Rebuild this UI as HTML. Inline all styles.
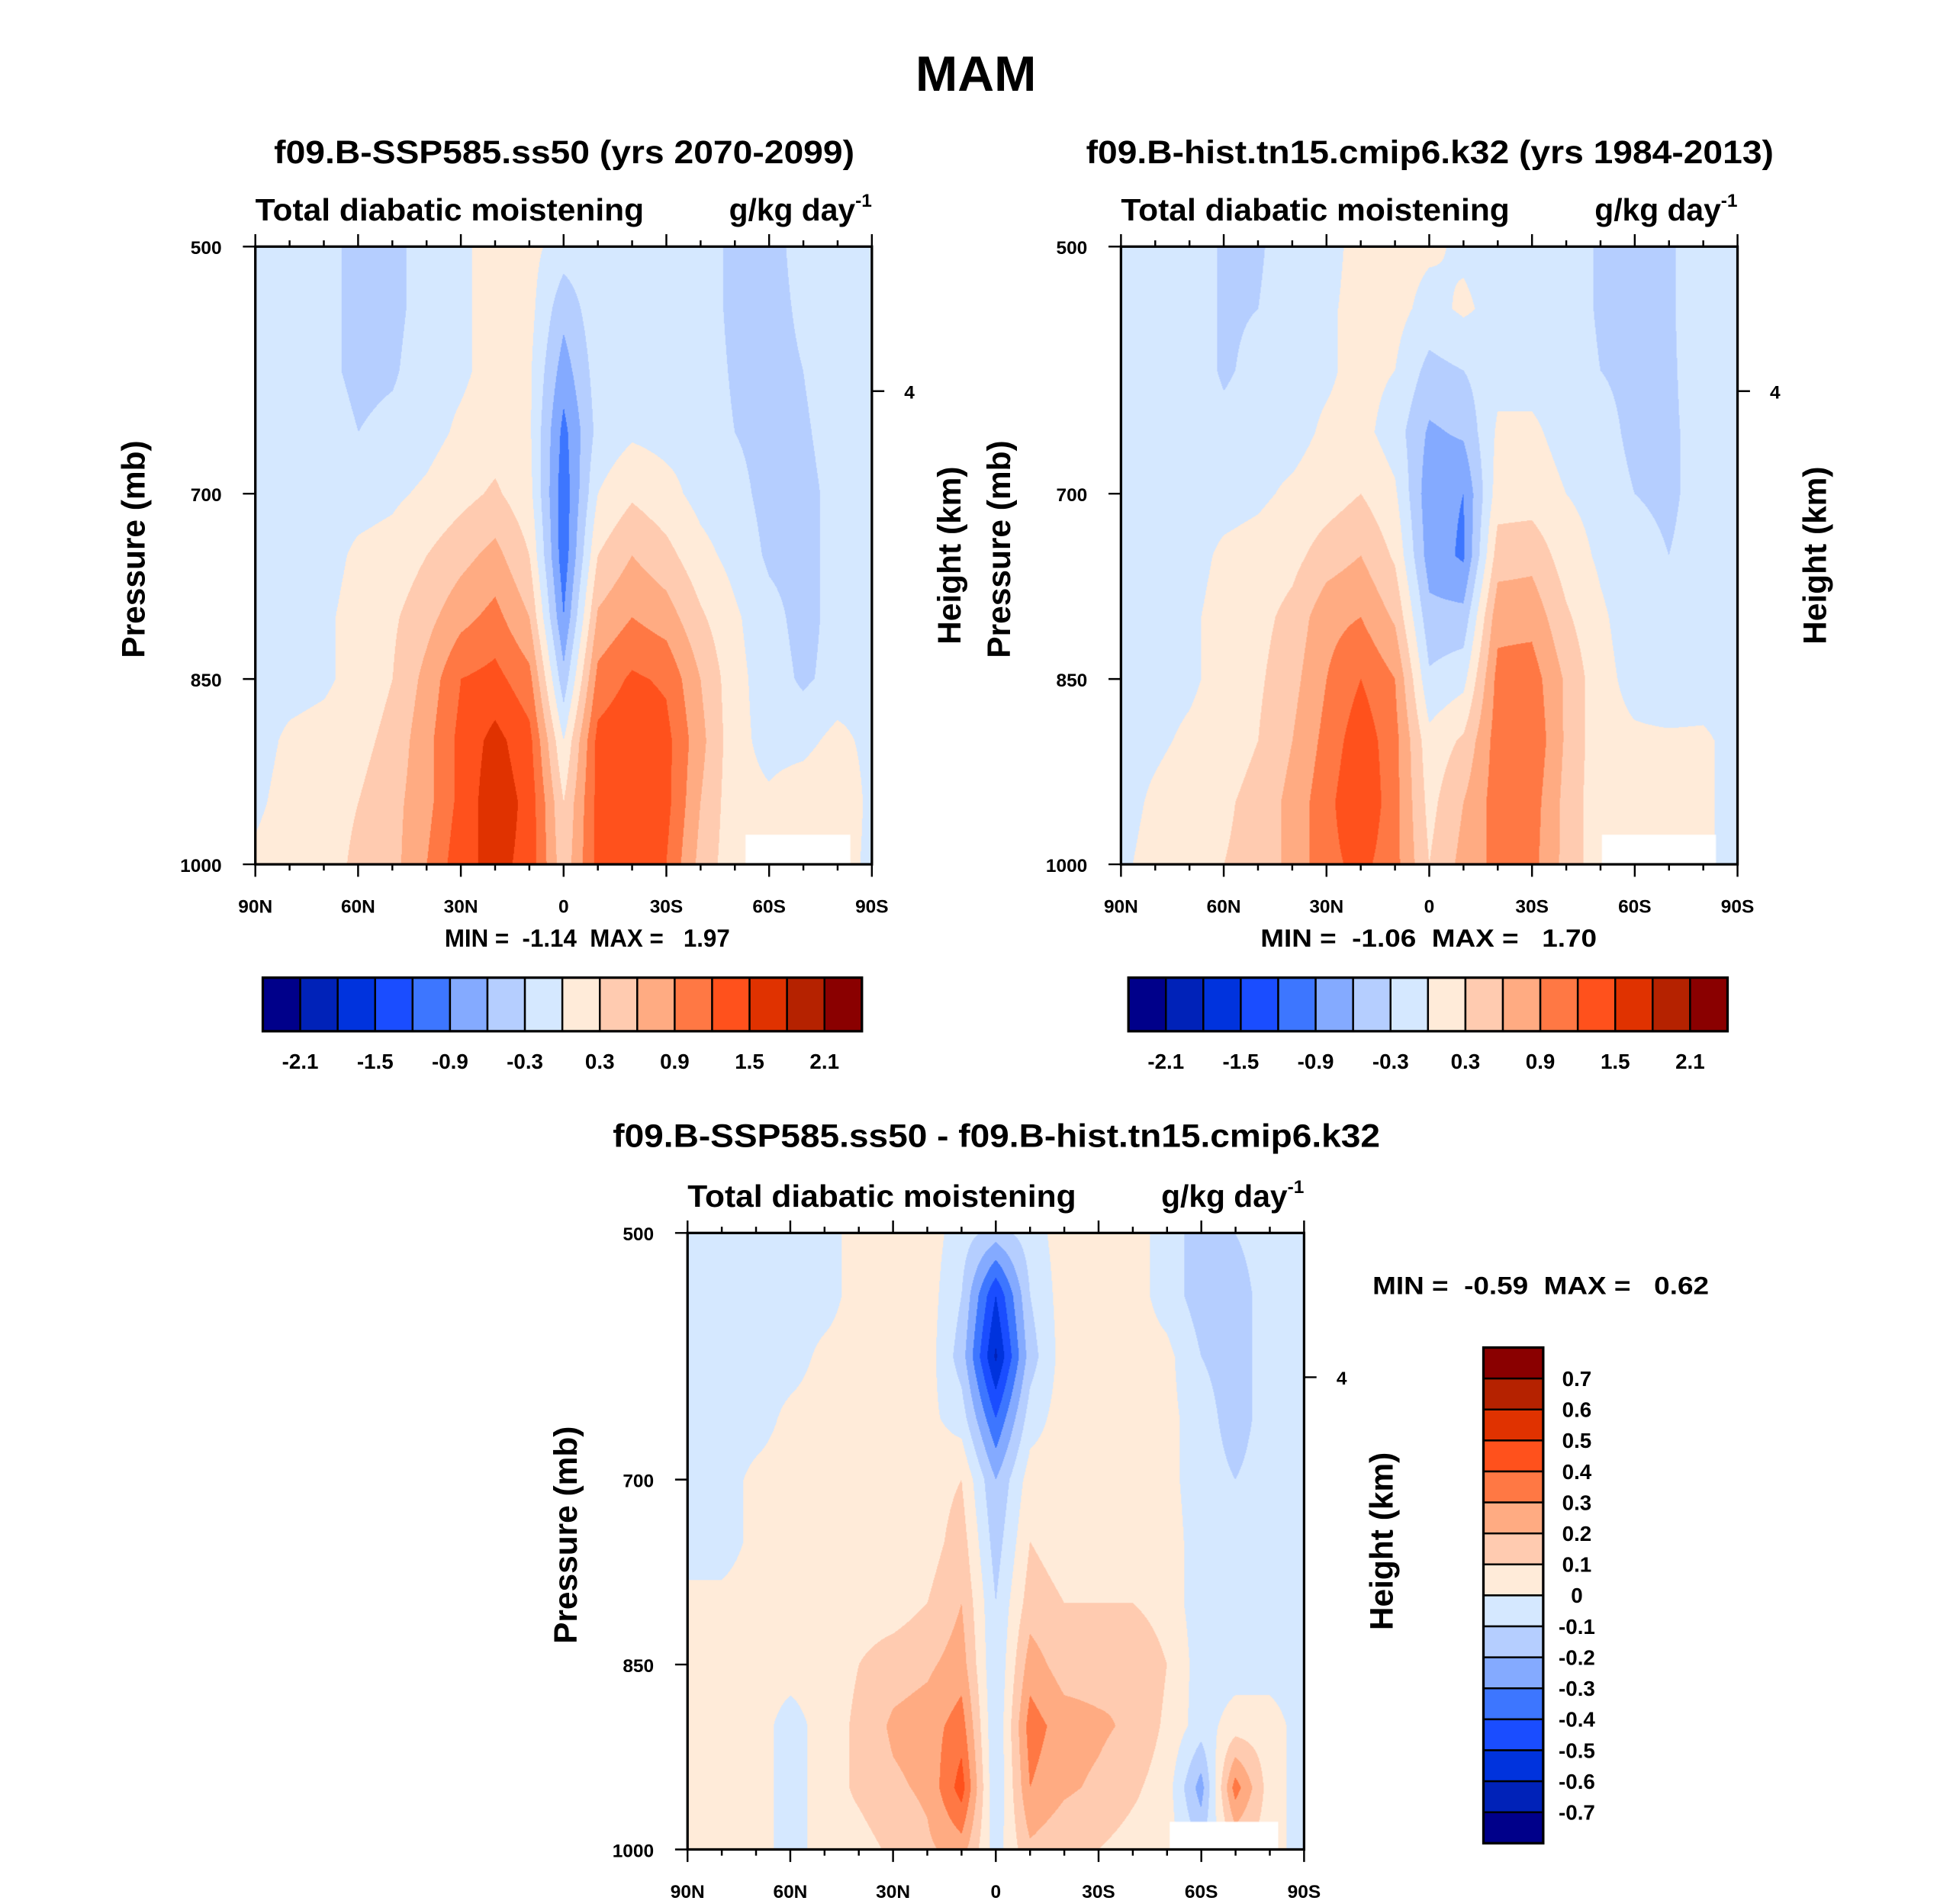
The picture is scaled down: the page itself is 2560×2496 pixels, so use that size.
<!DOCTYPE html>
<html><head><meta charset="utf-8">
<style>
html,body{margin:0;padding:0;background:#fff;}
#wrap{position:absolute;left:0;top:0;width:1568px;height:1529px;transform:scale(1.632653);transform-origin:0 0;overflow:hidden;}
canvas{position:absolute;}
svg{position:absolute;left:0;top:0;}
text{font-family:"Liberation Sans",Arial,sans-serif;font-weight:bold;fill:#000;}
</style></head>
<body>
<div id="wrap">
<canvas id="c1" width="808" height="810" style="left:205px;top:198px;width:495px;height:496px"></canvas>
<canvas id="c2" width="808" height="810" style="left:900px;top:198px;width:495px;height:496px"></canvas>
<canvas id="c3" width="808" height="810" style="left:552px;top:990px;width:495px;height:495px"></canvas>
<svg id="svg" width="1568" height="1529" viewBox="0 0 1568 1529">
<text x="735" y="73" font-size="40" textLength="97" lengthAdjust="spacingAndGlyphs">MAM</text>
<text x="220" y="131" font-size="26" textLength="466" lengthAdjust="spacingAndGlyphs">f09.B-SSP585.ss50 (yrs 2070-2099)</text>
<text x="872" y="131" font-size="26" textLength="552" lengthAdjust="spacingAndGlyphs">f09.B-hist.tn15.cmip6.k32 (yrs 1984-2013)</text>
<text x="492" y="921" font-size="26" textLength="616" lengthAdjust="spacingAndGlyphs">f09.B-SSP585.ss50 - f09.B-hist.tn15.cmip6.k32</text>
<text x="357" y="760" font-size="20" textLength="229" lengthAdjust="spacingAndGlyphs" xml:space="preserve">MIN =  -1.14  MAX =   1.97</text>
<text x="1012" y="760" font-size="20" textLength="270" lengthAdjust="spacingAndGlyphs" xml:space="preserve">MIN =  -1.06  MAX =   1.70</text>
<text x="1102" y="1039" font-size="20" textLength="270" lengthAdjust="spacingAndGlyphs" xml:space="preserve">MIN =  -0.59  MAX =   0.62</text>
<g id="axes"></g>
</svg>
</div>
<script>
// ---- data: lat columns 90N..90S every 10 deg; pressure rows 500..1000 every 50 mb ----
const lats = ["90N","80N","70N","60N","50N","40N","30N","20N","10N","0","10S","20S","30S","40S","50S","60S","70S","80S","90S"];
const pressures = [500,550,600,650,700,750,800,850,900,950,1000];
const xTickLabels = ["90N","60N","30N","0","30S","60S","90S"];
const yTickLabels = [500,700,850,1000];
const levels12 = [-2.1,-1.8,-1.5,-1.2,-0.9,-0.6,-0.3,0,0.3,0.6,0.9,1.2,1.5,1.8,2.1];
const levels3 = [-0.7,-0.6,-0.5,-0.4,-0.3,-0.2,-0.1,0,0.1,0.2,0.3,0.4,0.5,0.6,0.7];
const palette = ["#00008a","#0022b8","#0033dd","#1a4dff","#3d76ff","#84aaff","#b5ceff","#d5e8ff","#ffebd9","#ffcbb0","#ffab82","#ff7844","#ff511c","#e03200","#b52200","#8a0000"];
const field1 = [
[-.1,-.1,-.2,-.4,-.4,-.15,-.05,.1,.1,-.15,-.1,-.1,-.1,-.1,-.4,-.4,-.2,-.1,-.1],
[-.1,-.1,-.2,-.4,-.4,-.15,-.05,.1,.1,-.5,-.1,-.1,-.1,-.1,-.4,-.4,-.25,-.1,-.1],
[-.1,-.1,-.2,-.4,-.35,-.1,-.05,.1,.05,-.75,-.15,-.1,-.1,-.1,-.35,-.4,-.3,-.1,-.1],
[-.1,-.1,-.1,-.3,-.2,-.1,.05,.15,.05,-1.0,-.2,-.05,-.1,-.1,-.3,-.4,-.35,-.15,-.1],
[-.1,-.1,-.1,-.1,-.05,.05,.2,.35,.1,-1.1,.0,.25,.1,-.1,-.2,-.4,-.4,-.2,-.1],
[-.1,-.1,-.1,.05,.1,.3,.5,.7,.3,-1.1,.3,.6,.4,.1,-.1,-.35,-.4,-.2,-.1],
[-.1,-.1,-.05,.1,.25,.5,.8,1.0,.6,-.9,.65,.9,.75,.35,.05,-.2,-.4,-.2,-.1],
[-.1,-.1,-.05,.1,.3,.7,1.2,1.3,1.0,-.5,1.0,1.25,1.15,.6,.1,-.15,-.35,-.2,-.1],
[-.1,.05,.1,.2,.4,.8,1.3,1.6,1.3,0,1.3,1.45,1.3,.7,.1,-.1,-.1,.1,-.1],
[-.05,.1,.2,.3,.5,.8,1.3,1.7,1.4,.3,1.3,1.45,1.3,.6,.1,.05,.2,.3,-.1],
[.05,.15,.2,.35,.5,.9,1.4,1.6,1.4,.4,1.3,1.4,1.2,.5,.1,.1,.2,.2,-.1]];
const field2 = [
[-.1,-.1,-.1,-.35,-.35,-.1,-.1,.1,.1,.05,-.05,-.1,-.1,-.1,-.35,-.4,-.35,-.1,-.1],
[-.1,-.1,-.1,-.35,-.3,-.1,-.05,.1,.1,-.1,.05,-.1,-.1,-.1,-.35,-.4,-.35,-.1,-.1],
[-.1,-.1,-.1,-.35,-.2,-.1,-.05,.1,.0,-.4,-.3,-.1,-.1,-.1,-.3,-.4,-.35,-.15,-.1],
[-.1,-.1,-.1,-.2,-.1,-.1,.05,.1,-.15,-.65,-.55,.05,.05,-.1,-.15,-.4,-.35,-.2,-.1],
[-.1,-.1,-.1,-.1,-.05,.05,.15,.3,.05,-.8,-.9,.15,.15,0,-.1,-.3,-.35,-.2,-.1],
[-.1,-.1,-.1,.05,.1,.2,.45,.6,.25,-.75,-.95,.45,.5,.15,-.05,-.2,-.3,-.2,-.1],
[-.1,-.1,-.05,.1,.2,.4,.8,.9,.55,-.5,-.5,.8,.8,.35,.05,-.15,-.25,-.2,-.1],
[-.1,-.1,-.05,.1,.25,.5,.9,1.2,.9,-.25,-.1,1.0,1.05,.55,.1,-.1,-.2,-.15,-.1],
[-.1,-.05,.05,.15,.3,.6,1.0,1.4,1.0,.1,.35,1.05,1.15,.55,.1,.05,.05,.05,-.1],
[-.1,.05,.15,.25,.4,.7,1.1,1.5,1.0,.2,.6,1.05,1.05,.5,.1,.1,.1,.05,-.1],
[-.05,.1,.2,.3,.4,.7,1.1,1.3,1.0,.3,.7,1.0,1.0,.5,.1,.1,.1,.05,-.1]];
const field3 = [
[-.05,-.05,-.05,-.05,-.05,.05,.05,.05,-.05,-.15,-.05,.05,.05,.05,-.05,-.15,-.1,-.05,-.05],
[-.05,-.05,-.05,-.05,-.05,.05,.05,.05,-.1,-.5,-.1,.05,.05,.05,-.05,-.15,-.15,-.05,-.05],
[-.05,-.05,-.05,-.05,.03,.05,.05,.05,-.15,-.62,-.15,.05,.05,.05,.03,-.1,-.15,-.05,-.05],
[-.05,-.05,-.05,.03,.05,.05,.05,.03,-.05,-.4,-.05,.05,.05,.05,.03,-.05,-.15,-.05,-.05],
[-.05,-.05,.03,.05,.05,.03,.05,.05,.1,-.2,.05,.05,.05,.05,.03,-.05,-.1,-.05,-.05],
[-.05,-.05,.03,.05,.05,.05,.05,.05,.15,-.15,.1,.05,.05,.05,.05,-.05,-.05,-.05,-.05],
[.03,.03,.05,.05,.05,.05,.05,.1,.2,-.1,.15,.1,.1,.1,.05,-.05,-.05,-.05,-.05],
[.03,.05,.05,.05,.05,.1,.15,.18,.25,-.1,.25,.15,.15,.2,.1,-.05,-.05,-.05,-.05],
[.03,.05,.05,-.05,.05,.12,.22,.25,.35,-.1,.35,.25,.22,.18,.08,-.05,.05,.05,-.05],
[.03,.05,.05,-.05,.05,.12,.18,.22,.45,-.1,.3,.22,.18,.12,.05,-.25,.35,.05,-.05],
[.03,.03,.05,-.05,.05,.06,.12,.18,.25,-.05,.18,.12,.1,.06,.05,-.1,.1,.05,-.05]];

function hexRGB(h){return [parseInt(h.substr(1,2),16),parseInt(h.substr(3,2),16),parseInt(h.substr(5,2),16)];}
const pal = palette.map(hexRGB);
function drawField(id, field, levels, missing){
  const cv=document.getElementById(id), ctx=cv.getContext('2d');
  const W=cv.width,H=cv.height, img=ctx.createImageData(W,H);
  const nc=lats.length-1, nr=pressures.length-1;
  for(let y=0;y<H;y++){
    const fy=y/(H-1)*nr, r0=Math.min(Math.floor(fy),nr-1), ty=fy-r0;
    for(let x=0;x<W;x++){
      const fx=x/(W-1)*nc, c0=Math.min(Math.floor(fx),nc-1), tx=fx-c0;
      const v=(field[r0][c0]*(1-tx)+field[r0][c0+1]*tx)*(1-ty)+(field[r0+1][c0]*(1-tx)+field[r0+1][c0+1]*tx)*ty;
      let k=0; while(k<levels.length && v>=levels[k]) k++;
      const c=pal[k], i=(y*W+x)*4;
      img.data[i]=c[0];img.data[i+1]=c[1];img.data[i+2]=c[2];img.data[i+3]=255;
    }
  }
  ctx.putImageData(img,0,0);
  if(missing){ctx.fillStyle='#fff';ctx.fillRect(missing[0]*W,missing[1]*H,missing[2]*W,missing[3]*H);}
}
drawField('c1',field1,levels12,[0.795,0.952,0.17,0.048]);
drawField('c2',field2,levels12,[0.78,0.952,0.185,0.048]);
drawField('c3',field3,levels3,[0.782,0.955,0.176,0.045]);

const NS='http://www.w3.org/2000/svg';
const g=document.getElementById('axes');
function el(tag,attrs,parent){const e=document.createElementNS(NS,tag);for(const k in attrs)e.setAttribute(k,attrs[k]);(parent||g).appendChild(e);return e;}
function txt(s,attrs){const e=el('text',attrs);e.textContent=s;return e;}

function panel(x0,y0,w,h,pfx){
  const xOf=i=>x0+i*w/(lats.length-1);
  const yOf=p=>y0+(p-500)/500*h;
  const frame=el('rect',{x:x0,y:y0,width:w,height:h,fill:'none',stroke:'#000','stroke-width':2});
  
  
  for(let i=0;i<lats.length;i++){
    const major=i%3===0, L=major?10:5;
    el('line',{x1:xOf(i),x2:xOf(i),y1:y0,y2:y0-L,stroke:'#000','stroke-width':1.5});
    el('line',{x1:xOf(i),x2:xOf(i),y1:y0+h,y2:y0+h+L,stroke:'#000','stroke-width':1.5});
  }
  xTickLabels.forEach((s,j)=>{
    const t=txt(s,{x:xOf(j*3),y:y0+h+39,'font-size':15,'text-anchor':'middle'});
    
    
  });
  yTickLabels.forEach(p=>{
    el('line',{x1:x0,x2:x0-10,y1:yOf(p),y2:yOf(p),stroke:'#000','stroke-width':1.5});
    const t=txt(String(p),{x:x0-27,y:yOf(p)+6,'font-size':15,'text-anchor':'end'});
    
    
  });
  const y4=y0+0.234*h;
  el('line',{x1:x0+w,x2:x0+w+10,y1:y4,y2:y4,stroke:'#000','stroke-width':1.5});
  const t4=txt('4',{x:x0+w+26,y:y4+6,'font-size':15});
  
  
  const st=txt('Total diabatic moistening',{x:x0,y:y0-21,'font-size':25,textLength:312,lengthAdjust:'spacingAndGlyphs'});
  
  
  const u=el('text',{x:x0+w,y:y0-21,'font-size':25,'text-anchor':'end'});
  u.innerHTML='g/kg day<tspan font-size="15" dy="-11">-1</tspan>';
  
  
  const yt=txt('Pressure (mb)',{x:0,y:0,'font-size':26,'text-anchor':'middle',transform:`translate(${x0-89},${y0+h*0.5-5}) rotate(-90)`});
  
  
  const ht=txt('Height (km)',{x:0,y:0,'font-size':26,'text-anchor':'middle',transform:`translate(${x0+w+71},${y0+h*0.5}) rotate(-90)`});
  
  
}
panel(205,198,495,496,'panel1');
panel(900,198,495,496,'panel2');
panel(552,990,495,495,'panel3');

function hbar(x0,y0,w,h,pfx){
  const bw=w/palette.length;
  palette.forEach((c,i)=>{
    const r=el('rect',{x:x0+i*bw,y:y0,width:bw,height:h,fill:c,stroke:'#000','stroke-width':1.5});
    
    
  });
  el('rect',{x:x0,y:y0,width:w,height:h,fill:'none',stroke:'#000','stroke-width':2});
  levels12.forEach((v,k)=>{
    if(k%2===0){
      const t=txt(v.toFixed(1),{x:x0+(k+1)*bw,y:y0+h+30,'font-size':17,'text-anchor':'middle'});
      
      
    }
  });
}
hbar(211,785,481,43,'panel1');
hbar(906,785,481,43,'panel2');

(function vbar(){
  const x0=1191,y0=1082,w=48,h=398,bh=h/palette.length;
  palette.slice().reverse().forEach((c,i)=>{
    const r=el('rect',{x:x0,y:y0+i*bh,width:w,height:bh,fill:c,stroke:'#000','stroke-width':1.5});
    
    
  });
  el('rect',{x:x0,y:y0,width:w,height:h,fill:'none',stroke:'#000','stroke-width':2});
  levels3.slice().reverse().forEach((v,k)=>{
    const s=(Math.abs(v)<1e-9)?'0':v.toFixed(1);
    const t=txt(s,{x:1266,y:y0+(k+1)*bh+6,'font-size':17,'text-anchor':'middle'});
    
    
  });
})();
</script>
</body></html>
